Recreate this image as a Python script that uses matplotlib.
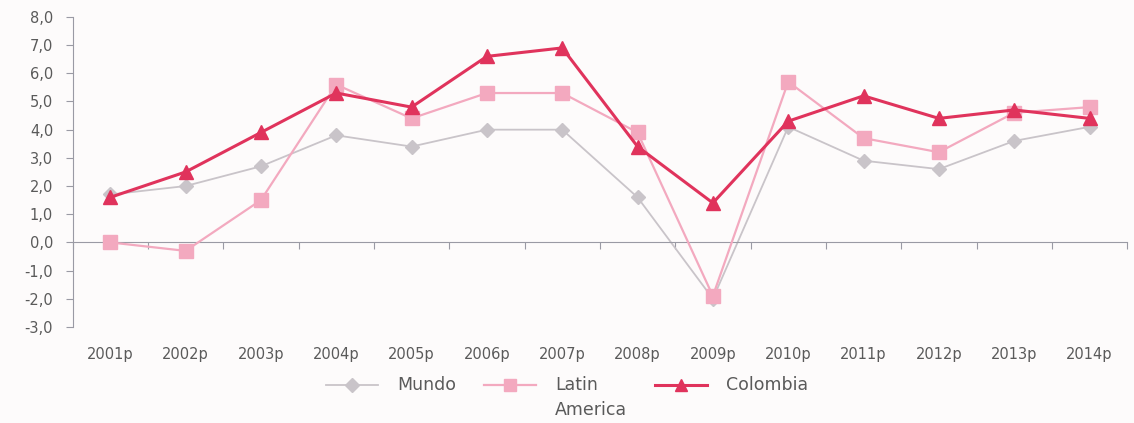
import matplotlib.pyplot as plt
import numpy as np
from matplotlib.lines import Line2D
from matplotlib.legend_handler import HandlerLine2D
from matplotlib.transforms import Affine2D

years = ['2001p', '2002p', '2003p', '2004p', '2005p', '2006p', '2007p',
         '2008p', '2009p', '2010p', '2011p', '2012p', '2013p', '2014p']
mundo = [1.7, 2.0, 2.7, 3.8, 3.4, 4.0, 4.0, 1.6, -2.0, 4.1, 2.9, 2.6, 3.6, 4.1]
latin = [0.0, -0.3, 1.5, 5.6, 4.4, 5.3, 5.3, 3.9, -1.9, 5.7, 3.7, 3.2, 4.6, 4.8]
colombia = [1.6, 2.5, 3.9, 5.3, 4.8, 6.6, 6.9, 3.4, 1.4, 4.3, 5.2, 4.4, 4.7, 4.4]
series_names = ['Mundo', 'Latin\nAmerica', 'Colombia']

c_mundo = '#c9c4c9'
c_latin = '#f3a9bf'
c_col = '#e0335c'
txt = '#5a5a5a'


class UpHandler(HandlerLine2D):
    # put the legend line next to the first text line
    def __init__(self, dy, **kw):
        super().__init__(**kw)
        self.dy = dy

    def create_artists(self, legend, orig_handle, xdescent, ydescent,
                       width, height, fontsize, trans):
        arts = super().create_artists(legend, orig_handle, xdescent, ydescent,
                                      width, height, fontsize, trans)
        for a in arts:
            a.set_transform(Affine2D().translate(0, self.dy) + trans)
        return arts


fig = plt.figure(figsize=(11.34, 4.23), dpi=100, facecolor='#fdfbfb')
ax = fig.add_axes([0.064, 0.227, 0.93, 0.733])
ax.set_facecolor('#fdfbfb')

x = np.arange(len(years))
ax.plot(x, mundo, color=c_mundo, lw=1.3, marker='D', ms=7, mfc=c_mundo, mec=c_mundo, zorder=2)
ax.plot(x, latin, color=c_latin, lw=1.6, marker='s', ms=10, mfc=c_latin, mec=c_latin, zorder=3)
ax.plot(x, colombia, color=c_col, lw=2.2, marker='^', ms=10, mfc=c_col, mec=c_col, zorder=4)

ax.set_xlim(-0.5, len(years) - 0.5)
ax.set_ylim(-3, 8)
ax.set_yticks(np.arange(-3, 9, 1))
ax.set_yticklabels([('%.1f' % v).replace('.', ',') for v in np.arange(-3, 9, 1)],
                   color=txt, fontsize=10.5)
ax.tick_params(axis='y', length=5, color='#9a9aa4', width=0.8, pad=9)

ax.spines['top'].set_visible(False)
ax.spines['right'].set_visible(False)
ax.spines['left'].set_color('#9a9aa4')
ax.spines['bottom'].set_color('#9a9aa4')
ax.spines['bottom'].set_position(('data', 0))
ax.set_xticks(np.arange(len(years) + 1) - 0.5)
ax.set_xticklabels([])
ax.tick_params(axis='x', length=5, color='#9a9aa4', width=0.8)

trans = ax.get_xaxis_transform()
for i, lab in enumerate(years):
    ax.text(i, -0.09, lab, transform=trans, ha='center', va='center', color=txt, fontsize=10.5)

handles = [
    Line2D([], [], color=c_mundo, lw=1.3, marker='D', ms=7),
    Line2D([], [], color=c_latin, lw=1.6, marker='s', ms=8),
    Line2D([], [], color=c_col, lw=2.2, marker='^', ms=9),
]
labels = [n if '\n' in n else n + '\n' for n in series_names]
hmap = {h: UpHandler(9.5) for h in handles}
leg = fig.legend(handles, labels, loc='center', handler_map=hmap,
                 bbox_to_anchor=(0.5, 0.06), ncol=3, frameon=False, fontsize=12.5,
                 handlelength=3.0, handletextpad=1.1, columnspacing=1.6, labelcolor=txt)
for t in leg.get_texts():
    t.set_linespacing(1.45)

fig.savefig('out.png', dpi=100, facecolor=fig.get_facecolor())
